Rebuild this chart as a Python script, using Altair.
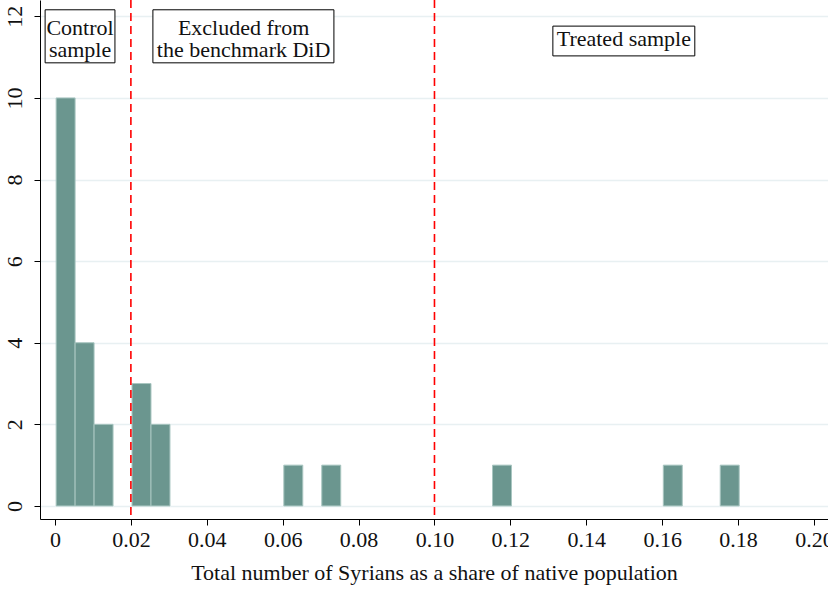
import altair as alt
import pandas as pd

# Histogram bins (width 0.005) and counts
bin_start = [0.0003, 0.0053, 0.0103, 0.0203, 0.0253, 0.0603, 0.0703, 0.1153, 0.1603, 0.1753]
bin_width = 0.005
counts = [10, 4, 2, 3, 2, 1, 1, 1, 1, 1]

# Threshold lines
thresholds = [0.02, 0.10]

# Annotation labels
label_text = ["Control\nsample", "Excluded from\nthe benchmark DiD", "Treated sample"]
label_x = [0.0066, 0.0497, 0.1499]
label_y = [11.72, 11.72, 11.45]
box_x1 = [-0.0026, 0.0258, 0.1312]
box_x2 = [0.0158, 0.0735, 0.1686]
box_y1 = [10.86, 10.86, 11.03]
box_y2 = [12.16, 12.16, 11.76]

x_ticks = [0, 0.02, 0.04, 0.06, 0.08, 0.10, 0.12, 0.14, 0.16, 0.18, 0.20]
y_ticks = [0, 2, 4, 6, 8, 10, 12]

hist = pd.DataFrame({
    "x1": bin_start,
    "x2": [b + bin_width for b in bin_start],
    "count": counts,
})
rules = pd.DataFrame({"x": thresholds})
boxes = pd.DataFrame({"x1": box_x1, "x2": box_x2, "y1": box_y1, "y2": box_y2})
labels = pd.DataFrame({"text": label_text, "x": label_x, "y": label_y})

FONT = "Liberation Serif"
xscale = alt.Scale(domain=[-0.00395, 0.2037], nice=False, zero=False)
yscale = alt.Scale(domain=[-0.32, 12.4], nice=False, zero=False)

x_axis = alt.Axis(
    values=x_ticks,
    labelExpr="datum.value == 0 ? '0' : format(datum.value, '.2f')",
    title="Total number of Syrians as a share of native population",
    grid=False, domainColor="black", tickColor="black", tickSize=6,
    labelFont=FONT, labelFontSize=22, labelColor="#111",
    titleFont=FONT, titleFontSize=22, titleFontWeight="normal", titleColor="#111",
    labelPadding=4, titlePadding=12, labelFlush=False, labelOverlap=False,
)
y_axis = alt.Axis(
    values=y_ticks, title=None,
    grid=True, gridColor="#e8f0f2", gridWidth=1.5,
    domainColor="black", tickColor="black", tickSize=6,
    labelFont=FONT, labelFontSize=22, labelColor="#111",
    labelAngle=270, labelAlign="center", labelBaseline="bottom", labelPadding=8,
)

bars = alt.Chart(hist).mark_rect(
    color="#6b968f", stroke="#a9c6c1", strokeWidth=1
).encode(
    x=alt.X("x1:Q", scale=xscale, axis=x_axis),
    x2="x2:Q",
    y=alt.Y("count:Q", scale=yscale, axis=y_axis),
    y2=alt.datum(0),
)

rule = alt.Chart(rules).mark_rule(
    color="#ff0000", strokeDash=[8, 5], strokeWidth=1.6
).encode(x=alt.X("x:Q", scale=xscale))

box = alt.Chart(boxes).mark_rect(
    fill="white", stroke="black", strokeWidth=1
).encode(
    x=alt.X("x1:Q", scale=xscale), x2="x2:Q",
    y=alt.Y("y1:Q", scale=yscale), y2="y2:Q",
)

text = alt.Chart(labels).mark_text(
    font=FONT, fontSize=22, color="#111", lineBreak="\n", lineHeight=22,
    align="center", baseline="middle"
).encode(
    x=alt.X("x:Q", scale=xscale),
    y=alt.Y("y:Q", scale=yscale),
    text="text:N",
)

chart = alt.layer(bars, rule, box, text).properties(
    width=788, height=519,
    autosize=alt.AutoSizeParams(type="none"),
    padding={"left": 40, "top": 0, "right": 0, "bottom": 70},
    background="white",
).configure_view(strokeWidth=0)

chart.save("out.html", embed_options={"renderer": "svg", "actions": False})
